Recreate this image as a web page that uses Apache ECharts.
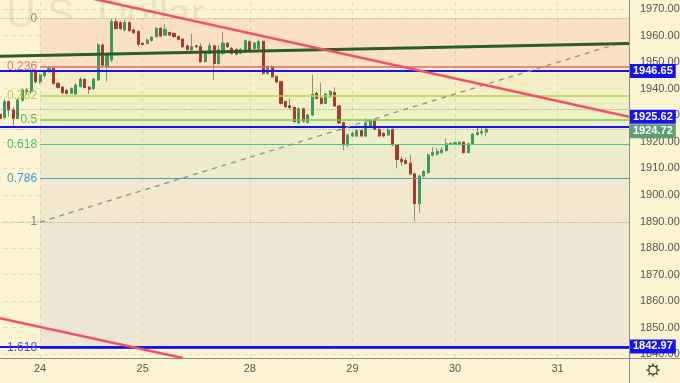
<!DOCTYPE html>
<html><head><meta charset="utf-8">
<script src="https://cdn.jsdelivr.net/npm/echarts@6/dist/echarts.min.js"></script>
<style>html,body{margin:0;padding:0;background:#fdf4d4;}#c{width:680px;height:383px;}</style>
</head><body><div id="c"></div>
<script>
// ---------- data ----------
const dayLabels = ['24','25','28','29','30','31'];
const dayStartIdx = [10,33,57,80,103,126];
const barCount = 143;          // category slots on the time axis
const firstBarIdx = 1;         // slot of the first candle
const opens = [1930.3,1929.2,1935.1,1932.0,1928.8,1935.7,1939.5,1938.9,1946.4,
 1942.6,1945.0,1946.4,1947.7,1942.0,1940.6,1939.3,1938.3,1938.0,1940.8,
 1943.5,1940.5,1940.0,1943.3,1956.4,1948.3,1950.8,1965.2,1964.8,1962.1,
 1964.8,1962.1,1961.5,1957.1,1957.1,1958.1,1959.6,1962.7,1960.2,1961.1,
 1960.8,1959.6,1958.6,1956.1,1954.6,1956.1,1955.8,1950.2,1953.3,1956.1,
 1949.5,1953.3,1957.1,1955.2,1954.8,1953.3,1954.6,1957.7,1955.2,1955.2,
 1957.7,1945.8,1948.3,1944.5,1942.6,1935.1,1933.5,1932.9,1927.2,1932.4,
 1927.4,1930.1,1938.2,1936.4,1934.5,1937.0,1938.5,1933.5,1927.2,1918.8,
 1922.2,1922.2,1924.2,1922.2,1926.0,1928.0,1924.7,1923.2,1922.6,1924.7,
 1918.8,1913.4,1912.9,1911.9,1907.9,1896.8,1907.1,1908.4,1915.0,1915.4,
 1916.0,1916.7,1919.2,1919.2,1919.4,1919.8,1916.0,1919.2,1922.8,1923.4,1923.7];
const closes = [1928.8,1935.1,1932.0,1928.8,1935.7,1939.5,1938.9,1946.4,1942.6,
 1945.1,1946.4,1947.7,1942.0,1940.5,1938.5,1938.3,1940.0,1941.4,1943.5,
 1940.5,1939.8,1943.5,1956.4,1948.9,1952.7,1965.2,1962.7,1962.7,1964.8,
 1961.8,1961.1,1956.7,1956.7,1958.3,1959.3,1962.7,1959.8,1962.3,1960.2,
 1959.6,1958.6,1955.8,1954.8,1955.8,1955.8,1950.2,1953.3,1956.1,1949.5,
 1954.6,1957.1,1955.8,1953.3,1953.05,1954.8,1958.0,1954.6,1957.1,1957.7,
 1945.8,1948.3,1944.5,1942.6,1934.5,1933.2,1932.9,1927.6,1932.4,1927.8,
 1930.1,1937.8,1936.4,1934.5,1938.0,1938.9,1933.5,1927.2,1918.8,1922.6,
 1923.2,1924.2,1922.2,1927.0,1928.0,1924.7,1922.2,1922.2,1924.4,1918.8,
 1913.4,1912.5,1911.9,1907.9,1896.8,1907.1,1908.8,1915.0,1915.9,1916.3,
 1916.9,1919.2,1919.4,1919.6,1919.8,1916.0,1919.2,1922.8,1923.4,1923.8,1924.72];
const lows = [1926.0,1928.5,1929.5,1926.0,1928.5,1935.0,1937.8,1938.0,1942.0,
 1941.8,1944.0,1946.0,1941.5,1940.0,1938.0,1937.8,1938.0,1937.6,1940.5,
 1940.0,1938.0,1939.5,1943.0,1948.0,1942.6,1950.0,1962.3,1962.0,1961.5,
 1961.5,1960.5,1956.0,1956.2,1956.8,1957.8,1959.3,1959.5,1960.0,1960.0,
 1959.2,1958.2,1955.4,1954.4,1954.3,1955.3,1949.8,1949.8,1953.0,1943.3,
 1949.0,1952.5,1955.3,1952.8,1952.6,1953.0,1954.2,1954.2,1954.8,1954.8,
 1945.2,1945.3,1944.0,1942.0,1934.0,1932.8,1932.2,1927.2,1926.5,1927.3,
 1927.0,1929.8,1936.0,1934.0,1934.2,1936.5,1933.2,1926.8,1916.9,1917.8,
 1921.8,1921.9,1921.8,1921.9,1925.6,1924.3,1921.8,1921.6,1922.2,1918.4,
 1910.0,1911.0,1911.4,1907.5,1890.0,1893.1,1906.6,1908.0,1914.5,1914.8,
 1915.5,1916.3,1918.8,1918.8,1919.0,1915.6,1915.6,1918.8,1922.3,1922.4,1922.0];
const highs = [1931.0,1936.0,1935.6,1933.0,1936.5,1940.0,1940.3,1947.5,1947.0,
 1945.6,1946.8,1948.6,1948.2,1942.5,1941.0,1940.0,1940.5,1942.0,1944.3,
 1944.0,1941.0,1944.0,1957.3,1957.0,1953.5,1966.4,1966.5,1965.5,1966.0,
 1965.5,1962.5,1962.0,1957.5,1958.8,1959.8,1963.3,1963.0,1964.3,1961.5,
 1961.2,1960.0,1959.0,1956.5,1960.6,1956.5,1957.1,1953.8,1957.3,1956.6,
 1956.4,1961.5,1957.5,1955.8,1955.2,1955.2,1958.5,1958.2,1957.6,1958.4,
 1958.2,1948.8,1948.8,1945.0,1943.0,1935.5,1936.4,1933.3,1933.0,1932.8,
 1930.5,1945.2,1938.8,1942.3,1938.4,1939.5,1940.6,1933.8,1927.5,1923.0,
 1923.8,1924.7,1924.6,1928.8,1928.5,1928.5,1925.0,1923.6,1925.0,1925.0,
 1919.2,1914.5,1914.0,1915.0,1908.3,1907.6,1909.3,1915.6,1918.0,1917.5,
 1918.0,1921.3,1919.8,1920.0,1920.2,1920.2,1919.6,1923.3,1925.5,1925.5,1925.3];

const fibRatios = [0, 0.236, 0.382, 0.5, 0.618, 0.786, 1, 1.618];
const fibHigh = 1966.5, fibLow = 1889.8;
const fibStartIdx = 10;
const priceLevels = [1946.65, 1925.62, 1842.97];
const lastPrice = 1924.72;
const dottedLevels = [1932.35];
const greenTrend = [[0, 1952.16], [142, 1957.01]];
const redTrendUpper = [[0, 1981.94], [142, 1929.45]];
const redTrendLower = [[0, 1853.92], [42, 1838.6]];
const dashedTrend = [[10, 1889.8], [140, 1957.2]];
const yMin = 1830, yMax = 1990, yStep = 10;
const yLabelMin = 1840, yLabelMax = 1970;
const plotBottomValue = 1838.4, plotTopValue = 1974;

// ---------- build ----------
const lastIdx = barCount - 1;
const categories = Array.from({length: barCount}, (_, k) => String(k));
const dayLabelAt = {};
dayStartIdx.forEach((k, j) => { dayLabelAt[k] = dayLabels[j]; });
const fibValue = r => fibHigh - r * (fibHigh - fibLow);

const wickData = opens.map((o, j) => [firstBarIdx + j, o, closes[j], lows[j], highs[j]]);
const bodyData = opens.map((o, j) => [firstBarIdx + j, o, closes[j], Math.min(o, closes[j]), Math.max(o, closes[j])]);

const fibZoneColors = ['#fbe1c4', '#f6efc6', '#eff0c4', '#ecefc7', '#eeebcb', '#f2e8cd', '#f0e6d4'];
const fibLineColors = ['#8c8c8c', '#e36a63', '#b1d64b', '#74cc55', '#4fc18f', '#4b9cd3', '#7d7d7d', '#3535d2'];
const fibLabelColors = ['#8c8c8c', '#ec7068', '#a9d03f', '#4fbf45', '#3dbb85', '#3f99d3', '#8c8c8c', '#4a4ad8'];

const fibAreas = fibZoneColors.map((c, j) => [
  {xAxis: fibStartIdx, yAxis: fibValue(fibRatios[j]), itemStyle: {color: c}},
  {xAxis: lastIdx, yAxis: fibValue(fibRatios[j + 1])}
]);

const lines = [];
dayStartIdx.forEach(k => lines.push([
  {xAxis: k, yAxis: plotBottomValue, lineStyle: {color: 'rgba(140,130,110,0.22)', width: 1, type: [4, 4]}, label: {show: false}},
  {xAxis: k, yAxis: plotTopValue}
]));
[fibValue(0), fibValue(1)].concat(dottedLevels).forEach(v => lines.push([
  {xAxis: 0, yAxis: v, lineStyle: {color: '#8f8f8f', width: 1, type: [1, 2]}, label: {show: false}},
  {xAxis: lastIdx, yAxis: v}
]));
fibRatios.forEach((r, j) => {
  const hidden = (r === 0 || r === 1);
  lines.push([
    {xAxis: fibStartIdx, yAxis: fibValue(r),
     lineStyle: {color: hidden ? 'rgba(0,0,0,0)' : fibLineColors[j], width: (j >= 1 && j <= 3) ? 1.5 : 1, type: 'solid'},
     label: {show: true, position: 'start', distance: 3, formatter: String(r), color: fibLabelColors[j], fontSize: 12, fontFamily: 'Liberation Sans, Arial, sans-serif'}},
    {xAxis: lastIdx, yAxis: fibValue(r)}
  ]);
});
lines.push([
  {xAxis: 0, yAxis: lastPrice, lineStyle: {color: '#8aa08e', width: 1, type: [1, 2]}, label: {show: false}},
  {xAxis: lastIdx, yAxis: lastPrice}
]);
priceLevels.forEach(v => lines.push([
  {xAxis: 0, yAxis: v, lineStyle: {color: '#1414f0', width: 2, type: 'solid'}, label: {show: false}},
  {xAxis: lastIdx, yAxis: v}
]));
const seg = (pts, style) => [
  {xAxis: pts[0][0], yAxis: pts[0][1], lineStyle: style, label: {show: false}},
  {xAxis: pts[1][0], yAxis: pts[1][1]}
];
lines.push(seg(dashedTrend, {color: '#8e8e8e', width: 1.3, type: [5, 5]}));
lines.push(seg(greenTrend, {color: '#2a5e22', width: 3, type: 'solid'}));
lines.push(seg(redTrendUpper, {color: '#f0506a', width: 2.5, type: 'solid'}));
lines.push(seg(redTrendLower, {color: '#f0506a', width: 2.5, type: 'solid'}));

const boxLabel = (text, bg, dy) => ({
  show: true, position: 'right', distance: 1, offset: [0, dy], formatter: text,
  backgroundColor: bg, color: '#ffffff', fontWeight: 'bold', fontSize: 11,
  fontFamily: 'Liberation Sans, Arial, sans-serif', padding: [2, 3, 1, 3]
});
const boxOffsets = [0, -10, 0];
const priceBoxes = priceLevels.map((v, j) => ({
  coord: [lastIdx, v], symbolSize: 0, label: boxLabel(v.toFixed(2), '#1414f0', boxOffsets[j])
}));
priceBoxes.push({coord: [lastIdx, lastPrice], symbolSize: 0, label: boxLabel(lastPrice.toFixed(2), '#5f9e73', 2)});

const chart = echarts.init(document.getElementById('c'), null, {width: 680, height: 383});
const font = 'Liberation Sans, Arial, sans-serif';

const gearEls = [{type: 'circle', shape: {cx: 653, cy: 370, r: 4.2}, style: {fill: 'none', stroke: '#3a3a3a', lineWidth: 1.2}}];
for (let a = 0; a < 8; a++) {
  const t = a * Math.PI / 4;
  gearEls.push({type: 'line', shape: {x1: 653 + Math.cos(t) * 4.2, y1: 370 + Math.sin(t) * 4.2, x2: 653 + Math.cos(t) * 6.6, y2: 370 + Math.sin(t) * 6.6}, style: {stroke: '#3a3a3a', lineWidth: 1.4}});
}

// pixel scale: 2.656 px per unit, 1970 at y=9
const pxPerUnit = 2.656;
const gridTop = 9 - (yMax - 1970) * pxPerUnit;
const gridBottomY = 9 + (1970 - yMin) * pxPerUnit;

chart.setOption({
  animation: false,
  backgroundColor: '#fdf4d4',
  grid: {left: -4.5, right: 51, top: gridTop, bottom: 383 - gridBottomY, containLabel: false, outerBoundsMode: 'none'},
  xAxis: {
    type: 'category', data: categories, boundaryGap: false, offset: 358 - gridBottomY,
    axisLine: {show: true, lineStyle: {color: '#8c8c8c', width: 1}},
    axisTick: {show: false},
    splitLine: {show: false},
    axisLabel: {
      interval: idx => dayLabelAt[idx] !== undefined,
      formatter: (val, idx) => dayLabelAt[idx] || '',
      color: '#555555', fontSize: 11, fontFamily: font, margin: 5
    }
  },
  yAxis: {
    type: 'value', position: 'right', min: yMin, max: yMax, interval: yStep,
    axisLine: {show: true, lineStyle: {color: '#8c8c8c', width: 1}},
    axisTick: {show: false},
    splitLine: {show: true, showMinLine: false, showMaxLine: false, lineStyle: {color: 'rgba(140,130,110,0.22)', type: [4, 4]}},
    axisLabel: {
      formatter: v => (v < yLabelMin || v > yLabelMax) ? '' : v.toFixed(2),
      color: '#555555', fontSize: 11, fontFamily: font, margin: 11
    }
  },
  graphic: [
    {type: 'text', z: -10, x: 6, y: 16, style: {text: 'U.S. Dollar', font: '41px Liberation Sans, Arial, sans-serif', fill: 'rgba(140,125,95,0.15)', verticalAlign: 'middle'}},
    {type: 'line', z: 10, shape: {x1: 629, y1: 358.5, x2: 680, y2: 358.5}, style: {stroke: '#8c8c8c', lineWidth: 1}},
    {type: 'line', z: 10, shape: {x1: 629.5, y1: 378, x2: 629.5, y2: 383}, style: {stroke: '#8c8c8c', lineWidth: 1}},
    {type: 'group', z: 10, children: gearEls}
  ],
  series: [
    {
      type: 'line', data: [], z: 1, clip: false, silent: true,
      markArea: {silent: true, data: fibAreas}
    },
    {
      type: 'candlestick', z: 2, barWidth: 2.6, silent: true,
      dimensions: ['k', 'open', 'close', 'low', 'high'],
      encode: {x: 0, y: [1, 2, 3, 4]},
      data: wickData,
      itemStyle: {color: '#8d8d8d', color0: '#8d8d8d', borderColor: '#8d8d8d', borderColor0: '#8d8d8d', borderWidth: 1}
    },
    {
      type: 'candlestick', z: 3, barWidth: 2.6, silent: true,
      dimensions: ['k', 'open', 'close', 'low', 'high'],
      encode: {x: 0, y: [1, 2, 3, 4]},
      data: bodyData,
      itemStyle: {color: '#3b9a5f', color0: '#a8392f', borderColor: '#3b9a5f', borderColor0: '#a8392f', borderWidth: 1}
    },
    {
      type: 'line', data: [], z: 4, clip: false, silent: true,
      markLine: {silent: true, symbol: ['none', 'none'], animation: false, data: lines},
      markPoint: {silent: true, symbol: 'rect', symbolSize: 0, animation: false, data: priceBoxes}
    }
  ]
});
</script></body></html>
